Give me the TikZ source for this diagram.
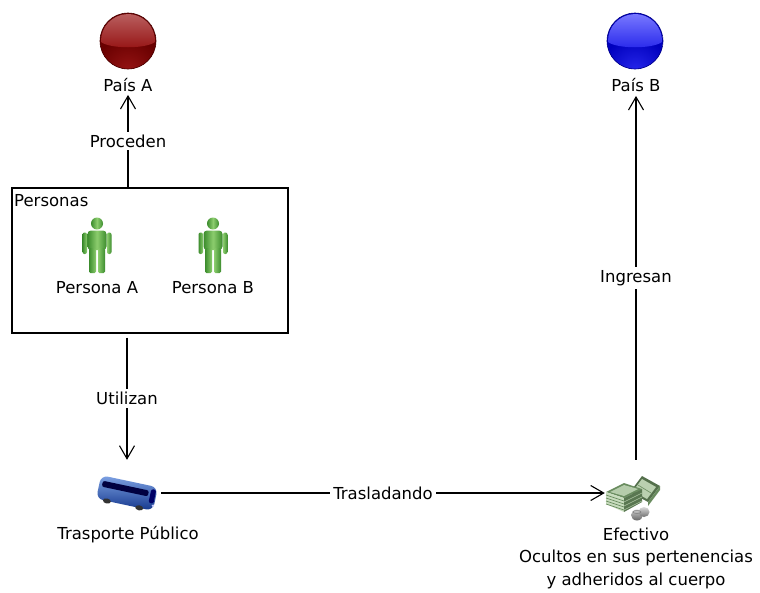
\documentclass[tikz,border=0pt]{standalone}
\usepackage{fontspec}
\setmainfont{DejaVu Sans}
\usetikzlibrary{arrows.meta}
\definecolor{plight}{RGB}{140,205,110}
\definecolor{pdark}{RGB}{60,140,45}
\definecolor{busblue}{RGB}{40,100,210}
\definecolor{busdark}{RGB}{20,55,140}
\definecolor{billg}{RGB}{105,140,95}
\definecolor{billl}{RGB}{200,220,190}
\definecolor{redD}{RGB}{105,0,0}
\definecolor{redM}{RGB}{150,20,20}
\definecolor{redL}{RGB}{185,95,95}
\definecolor{bluD}{RGB}{0,0,190}
\definecolor{bluM}{RGB}{40,40,235}
\definecolor{bluL}{RGB}{120,120,255}
\tikzset{
  lbl/.style={font=\fontsize{16.5}{22.5}\selectfont, inner sep=2pt, align=center},
  conn/.style={line width=1.1pt, -{Straight Barb[length=13pt,width=15pt,line width=1.1pt]}},
  onl/.style={lbl, fill=white, inner sep=3pt},
  icon/.style={minimum width=62pt, minimum height=66pt, inner sep=0pt},
}
\newcommand{\glossball}[4]{% center, dark, mid, light
  \begin{scope}[shift={#1}]
    \begin{scope}
      \clip (0,0) circle[radius=28];
      \fill[#2] (0,0) circle[radius=28];
      \shade[inner color=#3, outer color=#2] (0,-30) circle[radius=34];
      \shade[top color=#4, bottom color=#3] (-27,-1) arc[start angle=182, end angle=-2, radius=27] .. controls (18,-8) and (-18,-8) .. cycle;
    \end{scope}
    \draw[#2!70!black, line width=0.6pt] (0,0) circle[radius=28];
  \end{scope}
}
\newcommand{\personicon}[1]{%
  \begin{scope}[shift={#1}]
    \shade[left color=pdark, right color=pdark, middle color=plight] (0,21.5) circle[radius=6];
    \shade[left color=pdark, right color=pdark, middle color=plight, rounded corners=3.5pt] (-9.5,-5) rectangle (9.5,14.5);
    \shade[left color=pdark, right color=plight, rounded corners=2pt] (-14.5,-9) rectangle (-10,12.5);
    \shade[left color=plight, right color=pdark, rounded corners=2pt] (10,-9) rectangle (14.5,12.5);
    \shade[left color=pdark, right color=plight, rounded corners=1.5pt] (-8,-28) rectangle (-1,-3);
    \shade[left color=plight, right color=pdark, rounded corners=1.5pt] (1,-28) rectangle (8,-3);
  \end{scope}}
\begin{document}
\begin{tikzpicture}[x=1pt,y=1pt]
\useasboundingbox[fill=white] (0,0) rectangle (760,-592);

% spheres
\glossball{(128,-41)}{redD}{redM}{redL}
\node[icon, minimum width=56pt, minimum height=56pt] (sphA) at (128,-41) {};
\glossball{(635,-41)}{bluD}{bluM}{bluL}
\node[icon, minimum width=56pt, minimum height=56pt] (sphB) at (635,-41) {};
\node[lbl] (paisA) at (128,-85) {País A};
\node[lbl] (paisB) at (636,-85) {País B};

% Personas box
\node[draw, line width=1.4pt, minimum width=276pt, minimum height=145pt, inner sep=0pt] (personas) at (150,-260.5) {};
\node[lbl, anchor=west] (personasT) at (12,-201) {Personas};
\personicon{(97,-245)}
\node[icon, minimum width=30pt, minimum height=55pt] (pA) at (97,-245) {};
\personicon{(213,-245)}
\node[icon, minimum width=30pt, minimum height=55pt] (pB) at (213,-245) {};
\node[lbl] (pAl) at (97,-288) {Persona A};
\node[lbl] (pBl) at (213,-288) {Persona B};

% bus
\begin{scope}[shift={(127,-493)}, rotate=-12]
  \shade[top color=busblue!60!white, bottom color=busdark, rounded corners=7pt] (-29,-12) rectangle (29,12);
  \fill[black!75!blue, rounded corners=2pt] (-26,1) -- (21,1) -- (21,7) -- (-26,7) -- cycle;
  \fill[black!60!blue, rounded corners=2pt] (23,-5) -- (28,-5) -- (28,9) -- (23,9) -- cycle;
  \fill[white!80!blue] (28,-7) circle[radius=1.3];
  \fill[black!80] (-18,-12) ellipse[x radius=4, y radius=2.5];
  \fill[black!80] (15,-12) ellipse[x radius=4, y radius=2.5];
\end{scope}
\node[icon] (bus) at (127,-493) {};
\node[lbl] (busl) at (128,-535) {Trasporte Público};

% money
\begin{scope}[shift={(634,-494)}]
  % right tilted bundle
  \fill[billg!80!black] (-4,2) -- (8,18) -- (26,8) -- (14,-8) -- cycle;
  \fill[billl!85!billg] (-1,3) -- (8,15) -- (22,7) -- (13,-5) -- cycle;
  \draw[billg, line width=0.6pt] (4,9) -- (17,1);
  \fill[billg] (14,-8) -- (26,8) -- (26,4) -- (14,-12) -- cycle;
  % main bundle
  \fill[billg] (-28,2) -- (-10,11) -- (8,5) -- (-10,-4) -- cycle;
  \fill[billl!80!billg] (-24,2) -- (-10,9) -- (4,5) -- (-10,-2) -- cycle;
  \fill[billl] (-28,2) -- (-10,-4) -- (-10,-18) -- (-28,-10) -- cycle;
  \foreach \k in {0,3,6,9} \draw[billg, line width=0.7pt] (-28,-1-\k) -- (-10,-7-\k);
  \fill[billg!85!black] (-10,-4) -- (8,5) -- (8,-8) -- (-10,-18) -- cycle;
  \foreach \k in {0,4,8} \draw[billl!70!billg, line width=0.6pt] (-10,-8-\k) -- (8,1-\k);
  % coins
  \shade[top color=black!20, bottom color=black!60] (3,-21) ellipse[x radius=6, y radius=5.5];
  \shade[top color=black!15, bottom color=black!55] (10,-18) ellipse[x radius=5.5, y radius=5];
  \draw[black!50, line width=0.5pt] (3,-18) ellipse[x radius=4, y radius=1.5];
\end{scope}
\node[icon] (money) at (636,-493) {};
\node[lbl] (moneyl) at (636,-558) {Efectivo\\Ocultos en sus pertenencias\\y adheridos al cuerpo};

% connectors
\draw[conn] (personas.north -| paisA) -- node[onl] {Proceden} ([yshift=-1pt]paisA.south);
\draw[conn] ([yshift=-4pt]personas.south -| bus) -- node[onl] {Utilizan} (bus.north);
\draw[conn] ([xshift=3pt]bus.east) -- node[onl] {Trasladando} (money.west);
\draw[conn] (money.north) -- node[onl] {Ingresan} ([yshift=-2pt]paisB.south);
\end{tikzpicture}
\end{document}
